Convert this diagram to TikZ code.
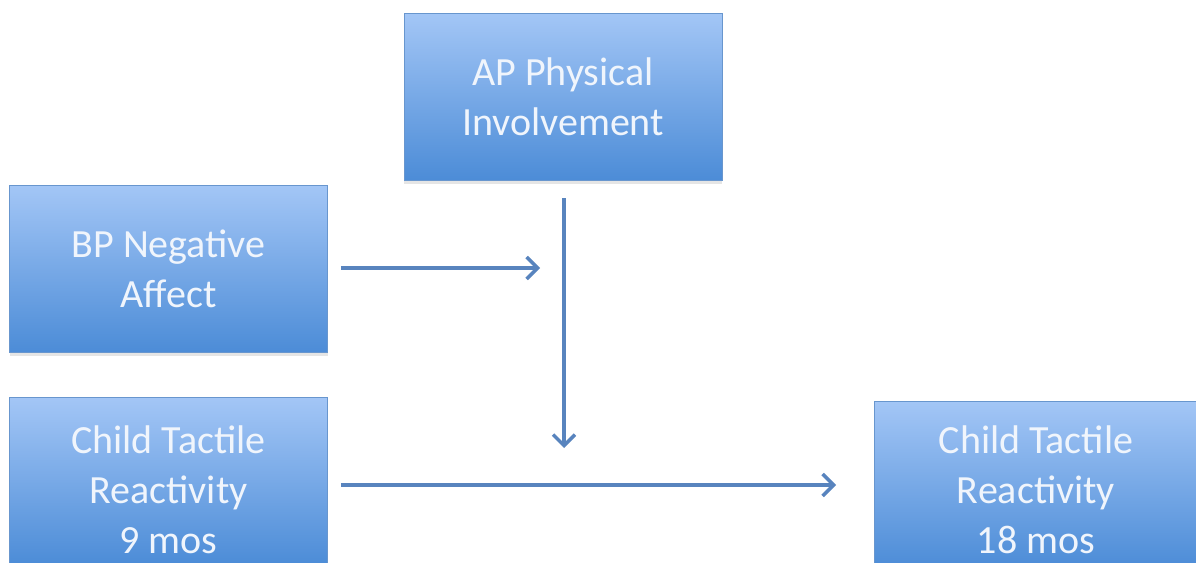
\documentclass[tikz,border=0pt]{standalone}
\usepackage{fontspec}
\setmainfont{Carlito}
\usetikzlibrary{arrows.meta,shadows}
\definecolor{boxtop}{RGB}{163,198,246}
\definecolor{boxbot}{RGB}{76,140,215}
\definecolor{boxline}{RGB}{104,150,206}
\definecolor{arrowc}{RGB}{88,132,190}
\definecolor{txt}{RGB}{240,245,252}
\newcommand{\topstrut}[1]{\rule{0pt}{#1}}
\tikzset{
  varbox/.style={rectangle, draw=boxline, line width=0.8pt,
    top color=boxtop, bottom color=boxbot,
    minimum width=318pt, minimum height=167pt, align=center,
    text=txt, font=\fontsize{40}{50}\selectfont, inner sep=0pt,
    drop shadow={opacity=0.2, shadow xshift=0pt, shadow yshift=-4pt}},
  arr/.style={draw=arrowc, line width=3.5pt,
    -{Straight Barb[length=11pt,width=22pt,line width=3.5pt]}}
}
\begin{document}
\begin{tikzpicture}[x=1pt,y=-1pt]
\useasboundingbox (0,0) rectangle (1196,562);
\clip (0,0) rectangle (1196,562);
\fill[white] (0,0) rectangle (1196,562);
\node[varbox] (ap) at (563,96.5) {AP Physical\\Involvement};
\node[varbox] (bp) at (168.5,268.5) {BP Negative\\Affect};
\node[varbox] (c9) at (168.5,481) {\topstrut{46pt}Child Tactile\\Reactivity\\9 mos};
\node[varbox, minimum width=324pt] (c18) at (1036,484.5) {\topstrut{39pt}Child Tactile\\Reactivity\\18 mos};
\coordinate (m1) at (540,268);
\coordinate (m2) at (564,448);
\coordinate (m3) at (836,485);
\draw[arr, shorten <=13pt] (bp.east |- m1) -- (m1);
\draw[arr, shorten <=18pt] (ap.south -| m2) -- (m2);
\draw[arr, shorten <=13pt] (c9.east |- m3) -- (m3);
\end{tikzpicture}
\end{document}
